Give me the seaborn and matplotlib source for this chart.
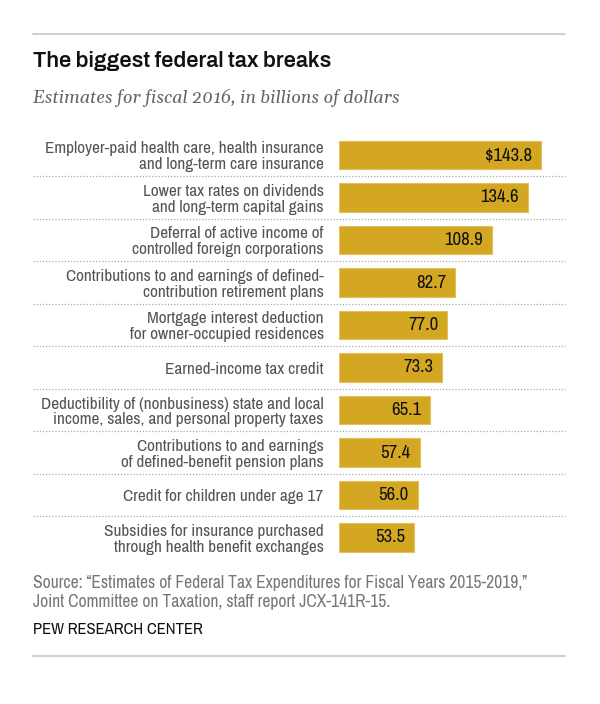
import matplotlib
matplotlib.use("Agg")
import matplotlib.pyplot as plt
import seaborn as sns
import pandas as pd

# data
breaks = [
    "Employer-paid health care, health insurance\nand long-term care insurance",
    "Lower tax rates on dividends\nand long-term capital gains",
    "Deferral of active income of\ncontrolled foreign corporations",
    "Contributions to and earnings of defined-\ncontribution retirement plans",
    "Mortgage interest deduction\nfor owner-occupied residences",
    "Earned-income tax credit",
    "Deductibility of (nonbusiness) state and local\nincome, sales, and personal property taxes",
    "Contributions to and earnings\nof defined-benefit pension plans",
    "Credit for children under age 17",
    "Subsidies for insurance purchased\nthrough health benefit exchanges",
]
billions = [143.8, 134.6, 108.9, 82.7, 77.0, 73.3, 65.1, 57.4, 56.0, 53.5]
value_labels = ["$143.8", "134.6", "108.9", "82.7", "77.0", "73.3", "65.1", "57.4", "56.0", "53.5"]

df = pd.DataFrame({"item": breaks, "value": billions})

sns.set_style("white")
NARROW = ["Archivo Narrow", "DejaVu Sans"]
plt.rcParams["font.family"] = NARROW

W, H = 600, 704
fig = plt.figure(figsize=(6, 7.04), dpi=100)

# bar area in pixel terms
x0, x1 = 339, 565
y_top, y_bot = 133.75, 558.75
ax = fig.add_axes([x0 / W, 1 - y_bot / H, (x1 - x0) / W, (y_bot - y_top) / H])

sns.barplot(data=df, x="value", y="item", color="#D3A722", saturation=1,
            width=0.68, edgecolor="#E3C25E", linewidth=0.8, ax=ax)
ax.set_xlim(0, 160.9)
ax.set_ylim(9.5, -0.5)
ax.set_xlabel("")
ax.set_ylabel("")
ax.set_xticks([])
ax.set_yticks(range(len(breaks)))
ax.set_yticklabels(breaks, fontsize=12.4, color="#555555", linespacing=1.08)
ax.tick_params(axis="y", length=0, pad=11)
for s in ax.spines.values():
    s.set_visible(False)

for i, (v, lab) in enumerate(zip(billions, value_labels)):
    ax.text(v - 6.4, i, lab, ha="right", va="center", fontsize=13.5, color="#111111")

# dotted separators across the full width
xmin_frac = (33 - x0) / (x1 - x0)
for k in range(len(breaks) - 1):
    ax.axhline(k + 0.5, xmin=xmin_frac, xmax=1, color="#aaaaaa", lw=0.9,
               ls=(0, (1, 1.5)), clip_on=False)

# top & bottom rules
fig.add_artist(plt.Line2D([33 / W, 565 / W], [1 - 34 / H, 1 - 34 / H], color="#cccccc", lw=1.3))
fig.add_artist(plt.Line2D([33 / W, 565 / W], [1 - 656 / H, 1 - 656 / H], color="#cccccc", lw=1.3))

fig.text(33 / W, 1 - 61 / H, "The biggest federal tax breaks", fontsize=15.6,
         fontweight="bold", color="#111111", va="center", ha="left",
         family=["Archivo", "DejaVu Sans"])
fig.text(33 / W, 1 - 98 / H, "Estimates for fiscal 2016, in billions of dollars", fontsize=12.9,
         style="italic", color="#666666", va="center", ha="left",
         family=["Gelasio", "DejaVu Serif"])

fig.text(33 / W, 1 - 583 / H, "Source: \u201cEstimates of Federal Tax Expenditures for Fiscal Years 2015-2019,\u201d",
         fontsize=12.6, color="#777777", va="center", ha="left")
fig.text(33 / W, 1 - 602 / H, "Joint Committee on Taxation, staff report JCX-141R-15.",
         fontsize=12.6, color="#777777", va="center", ha="left")
fig.text(33 / W, 1 - 630 / H, "PEW RESEARCH CENTER", fontsize=12, color="#111111",
         va="center", ha="left")

fig.savefig("out.png", dpi=100, facecolor="white")
